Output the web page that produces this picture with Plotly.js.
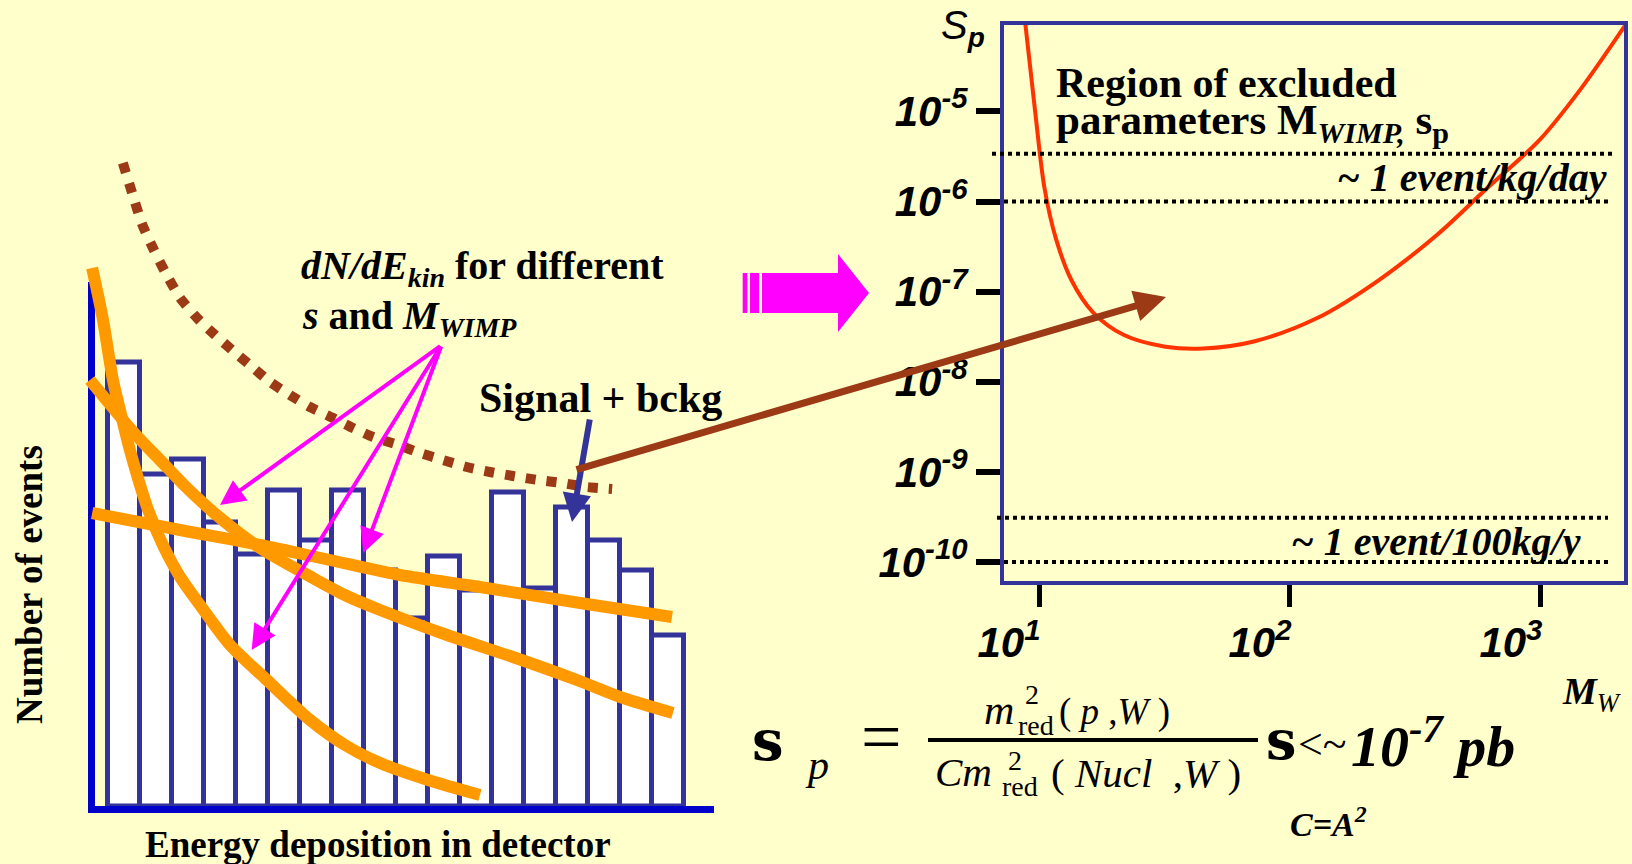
<!DOCTYPE html>
<html>
<head>
<meta charset="utf-8">
<script src="https://cdn.plot.ly/plotly-3.0.1.min.js"></script>
<style>
  html, body { margin: 0; padding: 0; background: #FFFFCC; overflow: hidden; }
  #chart { width: 1632px; height: 864px; }
</style>
</head>
<body>
<div id="chart"></div>
<script>
// ---------- Left panel: recoil spectrum (bin index vs number of events) ----------
const binIndex = [0, 1, 2, 3, 4, 5, 6, 7, 8, 9, 10, 11, 12, 13, 14, 15, 16, 17];
const eventCounts = [22.2, 16.6, 17.35, 14.2, 12.6, 15.8, 13.3, 15.8, 11.8, 9.4,
                     12.5, 10.8, 15.7, 10.9, 14.95, 13.3, 11.8, 8.55];

// dN/dE_kin for three WIMP hypotheses
const steepE = [-0.98, -0.64, -0.33, -0.05, 0.2, 0.45, 0.77, 1.23, 1.77, 2.39, 3.33, 4.48, 5.83, 6.92, 8.02, 9.52, 11.14];
const steepN = [26.9, 24.3, 21.3, 19.4, 17.8, 16.4, 14.8, 13.05, 11.45, 10.05, 8.05, 6.3, 4.3, 3.05, 2.15, 1.3, 0.55];

const midE = [-1.05, 0.36, 1.14, 1.92, 3.02, 4.27, 5.92, 6.98, 8.02, 10.11, 12.17, 14.17, 15.52, 17.17];
const midN = [21.3, 18.6, 17.3, 16.0, 14.4, 12.9, 11.4, 10.5, 9.8, 8.55, 7.45, 6.3, 5.45, 4.65];

const flatE = [-0.98, 1.77, 4.27, 6.45, 8.64, 11.14, 14.27, 17.14];
const flatN = [14.65, 13.8, 13.05, 12.3, 11.55, 10.95, 10.15, 9.45];

// Signal + background envelope
const envE = [-0.02, 0.27, 0.58, 0.92, 1.3, 1.77, 2.33, 2.86, 3.39, 3.95, 4.58, 5.2, 5.83,
              6.55, 7.17, 7.8, 8.58, 9.27, 9.98, 10.73, 11.45, 12.17, 12.95, 13.7, 14.48, 15.27];
const envN = [32.15, 30.65, 29.1, 27.9, 26.7, 25.4, 24.35, 23.55, 22.8, 22.05, 21.2, 20.55, 19.95,
              19.4, 18.9, 18.45, 18.05, 17.65, 17.3, 16.95, 16.7, 16.5, 16.3, 16.15, 15.95, 15.85];

// ---------- Right panel: exclusion limit ----------
const massGeV = [8.81, 9.68, 10.5, 11.7, 13.5, 16.4, 21.8, 31.9, 45.1, 72.4, 129, 224, 389, 617, 986, 1442, 2158];
const sigmaLimit = [9.6e-5, 9.25e-6, 1.44e-6, 3.8e-7, 1.32e-7, 5.9e-8, 3.3e-8, 2.45e-8, 2.34e-8,
                    2.82e-8, 5.13e-8, 1.32e-7, 4.37e-7, 1.45e-6, 4.8e-6, 1.78e-5, 8.9e-5];

// Event-rate reference levels (pb) and the pixel span of each dotted guide
const rateLevels = [3.4e-6, 1e-6, 3.1e-10, 1e-10];
const rateSpans = [[992, 1613], [1004, 1611], [997, 1608], [1004, 1608]];

const xTickVals = [10, 100, 1000];
const xTickText = ['10<sup>1</sup>', '10<sup>2</sup>', '10<sup>3</sup>'];
const yTickVals = [1e-5, 1e-6, 1e-7, 1e-8, 1e-9, 1e-10];
const yTickText = ['10<sup>-5</sup>', '10<sup>-6</sup>', '10<sup>-7</sup>', '10<sup>-8</sup>', '10<sup>-9</sup>', '10<sup>-10</sup>'];

// ---------- page geometry helpers ----------
const W = 1632, H = 864;
const px = x => x / W;
const py = y => 1 - y / H;
function pathFrom(pts) {
  return 'M' + pts.map(p => px(p[0]).toFixed(5) + ',' + py(p[1]).toFixed(5)).join('L') + 'Z';
}

const SERIF = 'Liberation Serif, Times New Roman, serif';
const SANS = 'Liberation Sans, Arial, sans-serif';
const SYM = 'DejaVu Serif, serif';
const ORANGE = '#FF9900';
const NAVY = '#333399';
const BLUE = '#0000CC';
const BROWN = '#9C3A16';
const MAGENTA = '#FF00FF';

// Left panel: one bin = 32 px, one event = 20 px
const binPx = 32, bin0 = 123.5, evPx = 20, base = 806;
const leftX = [-1.2, 18.45];
const leftY = [0, 32.8];

const traces = [
  {
    type: 'bar', x: binIndex, y: eventCounts, xaxis: 'x', yaxis: 'y',
    width: 1, marker: { color: '#FFFFFF', line: { color: NAVY, width: 5 } },
    hoverinfo: 'skip'
  },
  {
    type: 'scatter', mode: 'lines', x: envE, y: envN, xaxis: 'x', yaxis: 'y',
    line: { color: BROWN, width: 10, dash: '10px,11px', shape: 'spline', smoothing: 0.6 },
    hoverinfo: 'skip'
  },
  {
    type: 'scatter', mode: 'lines', x: flatE, y: flatN, xaxis: 'x', yaxis: 'y',
    line: { color: ORANGE, width: 12, shape: 'spline', smoothing: 0.8 }, hoverinfo: 'skip'
  },
  {
    type: 'scatter', mode: 'lines', x: midE, y: midN, xaxis: 'x', yaxis: 'y',
    line: { color: ORANGE, width: 12, shape: 'spline', smoothing: 0.8 }, hoverinfo: 'skip'
  },
  {
    type: 'scatter', mode: 'lines', x: steepE, y: steepN, xaxis: 'x', yaxis: 'y',
    line: { color: ORANGE, width: 12, shape: 'spline', smoothing: 0.8 }, hoverinfo: 'skip'
  },
  {
    type: 'scatter', mode: 'lines', x: massGeV, y: sigmaLimit, xaxis: 'x2', yaxis: 'y2',
    line: { color: '#FF3300', width: 4, shape: 'spline', smoothing: 0.9 }, hoverinfo: 'skip'
  }
];

const shapes = [
  // left panel axes
  { type: 'line', xref: 'paper', yref: 'paper', x0: px(91.5), x1: px(91.5), y0: py(282), y1: py(813),
    line: { color: BLUE, width: 7 }, layer: 'below' },
  { type: 'line', xref: 'paper', yref: 'paper', x0: px(88), x1: px(714), y0: py(809.5), y1: py(809.5),
    line: { color: BLUE, width: 7 }, layer: 'above' },
  // block arrow between the panels
  { type: 'path', xref: 'paper', yref: 'paper', layer: 'above',
    path: pathFrom([[762, 273], [838, 273], [838, 254], [869, 293], [838, 332], [838, 313], [762, 313]]),
    fillcolor: MAGENTA, line: { width: 0 } },
  { type: 'rect', xref: 'paper', yref: 'paper', x0: px(742.7), x1: px(747.3), y0: py(313), y1: py(273),
    fillcolor: MAGENTA, line: { width: 0 } },
  { type: 'rect', xref: 'paper', yref: 'paper', x0: px(750), x1: px(759), y0: py(313), y1: py(273),
    fillcolor: MAGENTA, line: { width: 0 } },
  // fraction bar of the formula
  { type: 'line', xref: 'paper', yref: 'paper', x0: px(928), x1: px(1258), y0: py(740), y1: py(740),
    line: { color: '#000000', width: 4 } }
];

// dotted event-rate guides on the limit plot
rateLevels.forEach((lvl, i) => {
  shapes.push({
    type: 'line', xref: 'paper', yref: 'y2',
    x0: px(rateSpans[i][0]), x1: px(rateSpans[i][1]),
    y0: lvl, y1: lvl,
    line: { color: '#000000', width: 4, dash: 'dot' }, layer: 'above'
  });
});

function txt(text, x, y, size, opts) {
  const o = opts || {};
  const ann = {
    xref: 'paper', yref: 'paper', x: px(x), y: py(y), text: text, showarrow: false,
    xanchor: o.xanchor || 'center', yanchor: 'middle', borderpad: 0
  };
  if (o.textangle !== undefined) ann.textangle = o.textangle;
  ann.font = Object.assign({ family: SERIF, size: size, color: '#000000' }, o.font || {});
  return ann;
}

function arrow(tip, tail, color, width, size) {
  return {
    xref: 'paper', yref: 'paper', x: px(tip[0]), y: py(tip[1]),
    axref: 'pixel', ayref: 'pixel', ax: tail[0] - tip[0], ay: tail[1] - tip[1],
    text: '', showarrow: true, arrowhead: 2, arrowsize: size, arrowwidth: width,
    arrowcolor: color, standoff: 0, startstandoff: 0
  };
}

const annotations = [
  // left panel labels
  txt('Number of events', 29, 585, 37, { textangle: -90, font: { weight: 'bold' } }),
  txt('Energy deposition in detector', 378, 844, 37, { font: { weight: 'bold' } }),
  txt('<i>dN/dE<sub>kin</sub></i> for different', 300, 268, 40, { xanchor: 'left', font: { weight: 'bold' } }),
  txt('<i>s</i> and <i>M<sub>WIMP</sub></i>', 301, 318, 40, { xanchor: 'left', font: { weight: 'bold' } }),
  txt('Signal + bckg', 478, 398, 42, { xanchor: 'left', font: { weight: 'bold' } }),

  // pointers
  arrow([220, 505], [441.7, 345], MAGENTA, 4, 1.25),
  arrow([251.7, 650], [441.7, 345], MAGENTA, 4, 1.25),
  arrow([363.3, 553], [441.7, 345], MAGENTA, 4, 1.25),
  arrow([572, 522], [590, 418], NAVY, 6, 0.95),
  arrow([1166, 297], [575, 470], BROWN, 7, 0.9),

  // right panel labels
  txt('Region of excluded', 1055, 83, 42, { xanchor: 'left', font: { weight: 'bold' } }),
  txt('parameters M<sub><i>WIMP,</i></sub> s<sub>p</sub>', 1055, 123, 43, { xanchor: 'left', font: { weight: 'bold' } }),
  txt('~ 1 event/kg/day', 1608, 177, 40, { xanchor: 'right', font: { weight: 'bold', style: 'italic' } }),
  txt('~ 1 event/100kg/y', 1582, 541, 40, { xanchor: 'right', font: { weight: 'bold', style: 'italic' } }),
  txt('<i>S</i><sub><b><i>p</i></b></sub>', 940, 28, 40, { xanchor: 'left', font: { family: SANS } }),
  txt('<b><i>M</i></b><sub><i>W</i></sub>', 1592, 694, 38, {}),

  // cross-section formula
  txt('s', 768, 740, 56, { font: { family: SYM, weight: 'bold' } }),
  txt('<i>p</i>', 817, 765, 42, {}),
  txt('=', 881, 737, 72, {}),
  txt('<i>m</i>', 999, 710, 42, {}),
  txt('2', 1032, 694, 28, {}),
  txt('red', 1036, 725, 28, {}),
  txt('( <i>p</i> ,<i>W</i> )', 1114, 712, 37, {}),
  txt('<i>Cm</i>', 963, 772, 41, {}),
  txt('2', 1015, 760, 28, {}),
  txt('red', 1020, 786, 28, {}),
  txt('( <i>Nucl</i>  ,<i>W</i> )', 1146, 773, 41, {}),
  txt('s', 1281, 740, 54, { font: { family: SYM, weight: 'bold' } }),
  txt('&lt;~', 1322, 744, 44, {}),
  txt('10<sup>-7</sup> pb', 1350, 742, 58, { xanchor: 'left', font: { weight: 'bold', style: 'italic' } }),
  txt('C=A<sup>2</sup>', 1328, 822, 34, { font: { weight: 'bold', style: 'italic' } })
];

const tickFont = { family: SANS, size: 42, color: '#000000', weight: 'bold', style: 'italic' };

const layout = {
  width: W, height: H,
  margin: { l: 0, r: 0, t: 0, b: 0, pad: 0 },
  paper_bgcolor: '#FFFFCC',
  plot_bgcolor: 'rgba(0,0,0,0)',
  showlegend: false,
  bargap: 0,
  hovermode: false,
  xaxis: {
    domain: [px(bin0 + leftX[0] * binPx), px(bin0 + leftX[1] * binPx)],
    range: leftX, visible: false, fixedrange: true
  },
  yaxis: {
    domain: [py(base), py(base - leftY[1] * evPx)],
    range: leftY, visible: false, fixedrange: true
  },
  xaxis2: {
    type: 'log', anchor: 'y2',
    domain: [px(1004), px(1624)],
    range: [0.8604, 3.331],
    showline: true, linecolor: NAVY, linewidth: 4, mirror: true,
    ticks: 'outside', ticklen: 22, tickwidth: 5, tickcolor: '#000000',
    tickvals: xTickVals, ticktext: xTickText, tickfont: tickFont,
    ticklabelshift: -30,
    showgrid: false, zeroline: false, fixedrange: true
  },
  yaxis2: {
    type: 'log', anchor: 'x2',
    domain: [py(581), py(25)],
    range: [-10.211, -4.041],
    showline: true, linecolor: NAVY, linewidth: 4, mirror: true,
    ticks: 'outside', ticklen: 24, tickwidth: 6, tickcolor: '#000000',
    tickvals: yTickVals, ticktext: yTickText, tickfont: tickFont,
    showgrid: false, zeroline: false, fixedrange: true
  },
  shapes: shapes,
  annotations: annotations
};

Plotly.newPlot('chart', traces, layout, { staticPlot: true, displayModeBar: false });
</script>
</body>
</html>
